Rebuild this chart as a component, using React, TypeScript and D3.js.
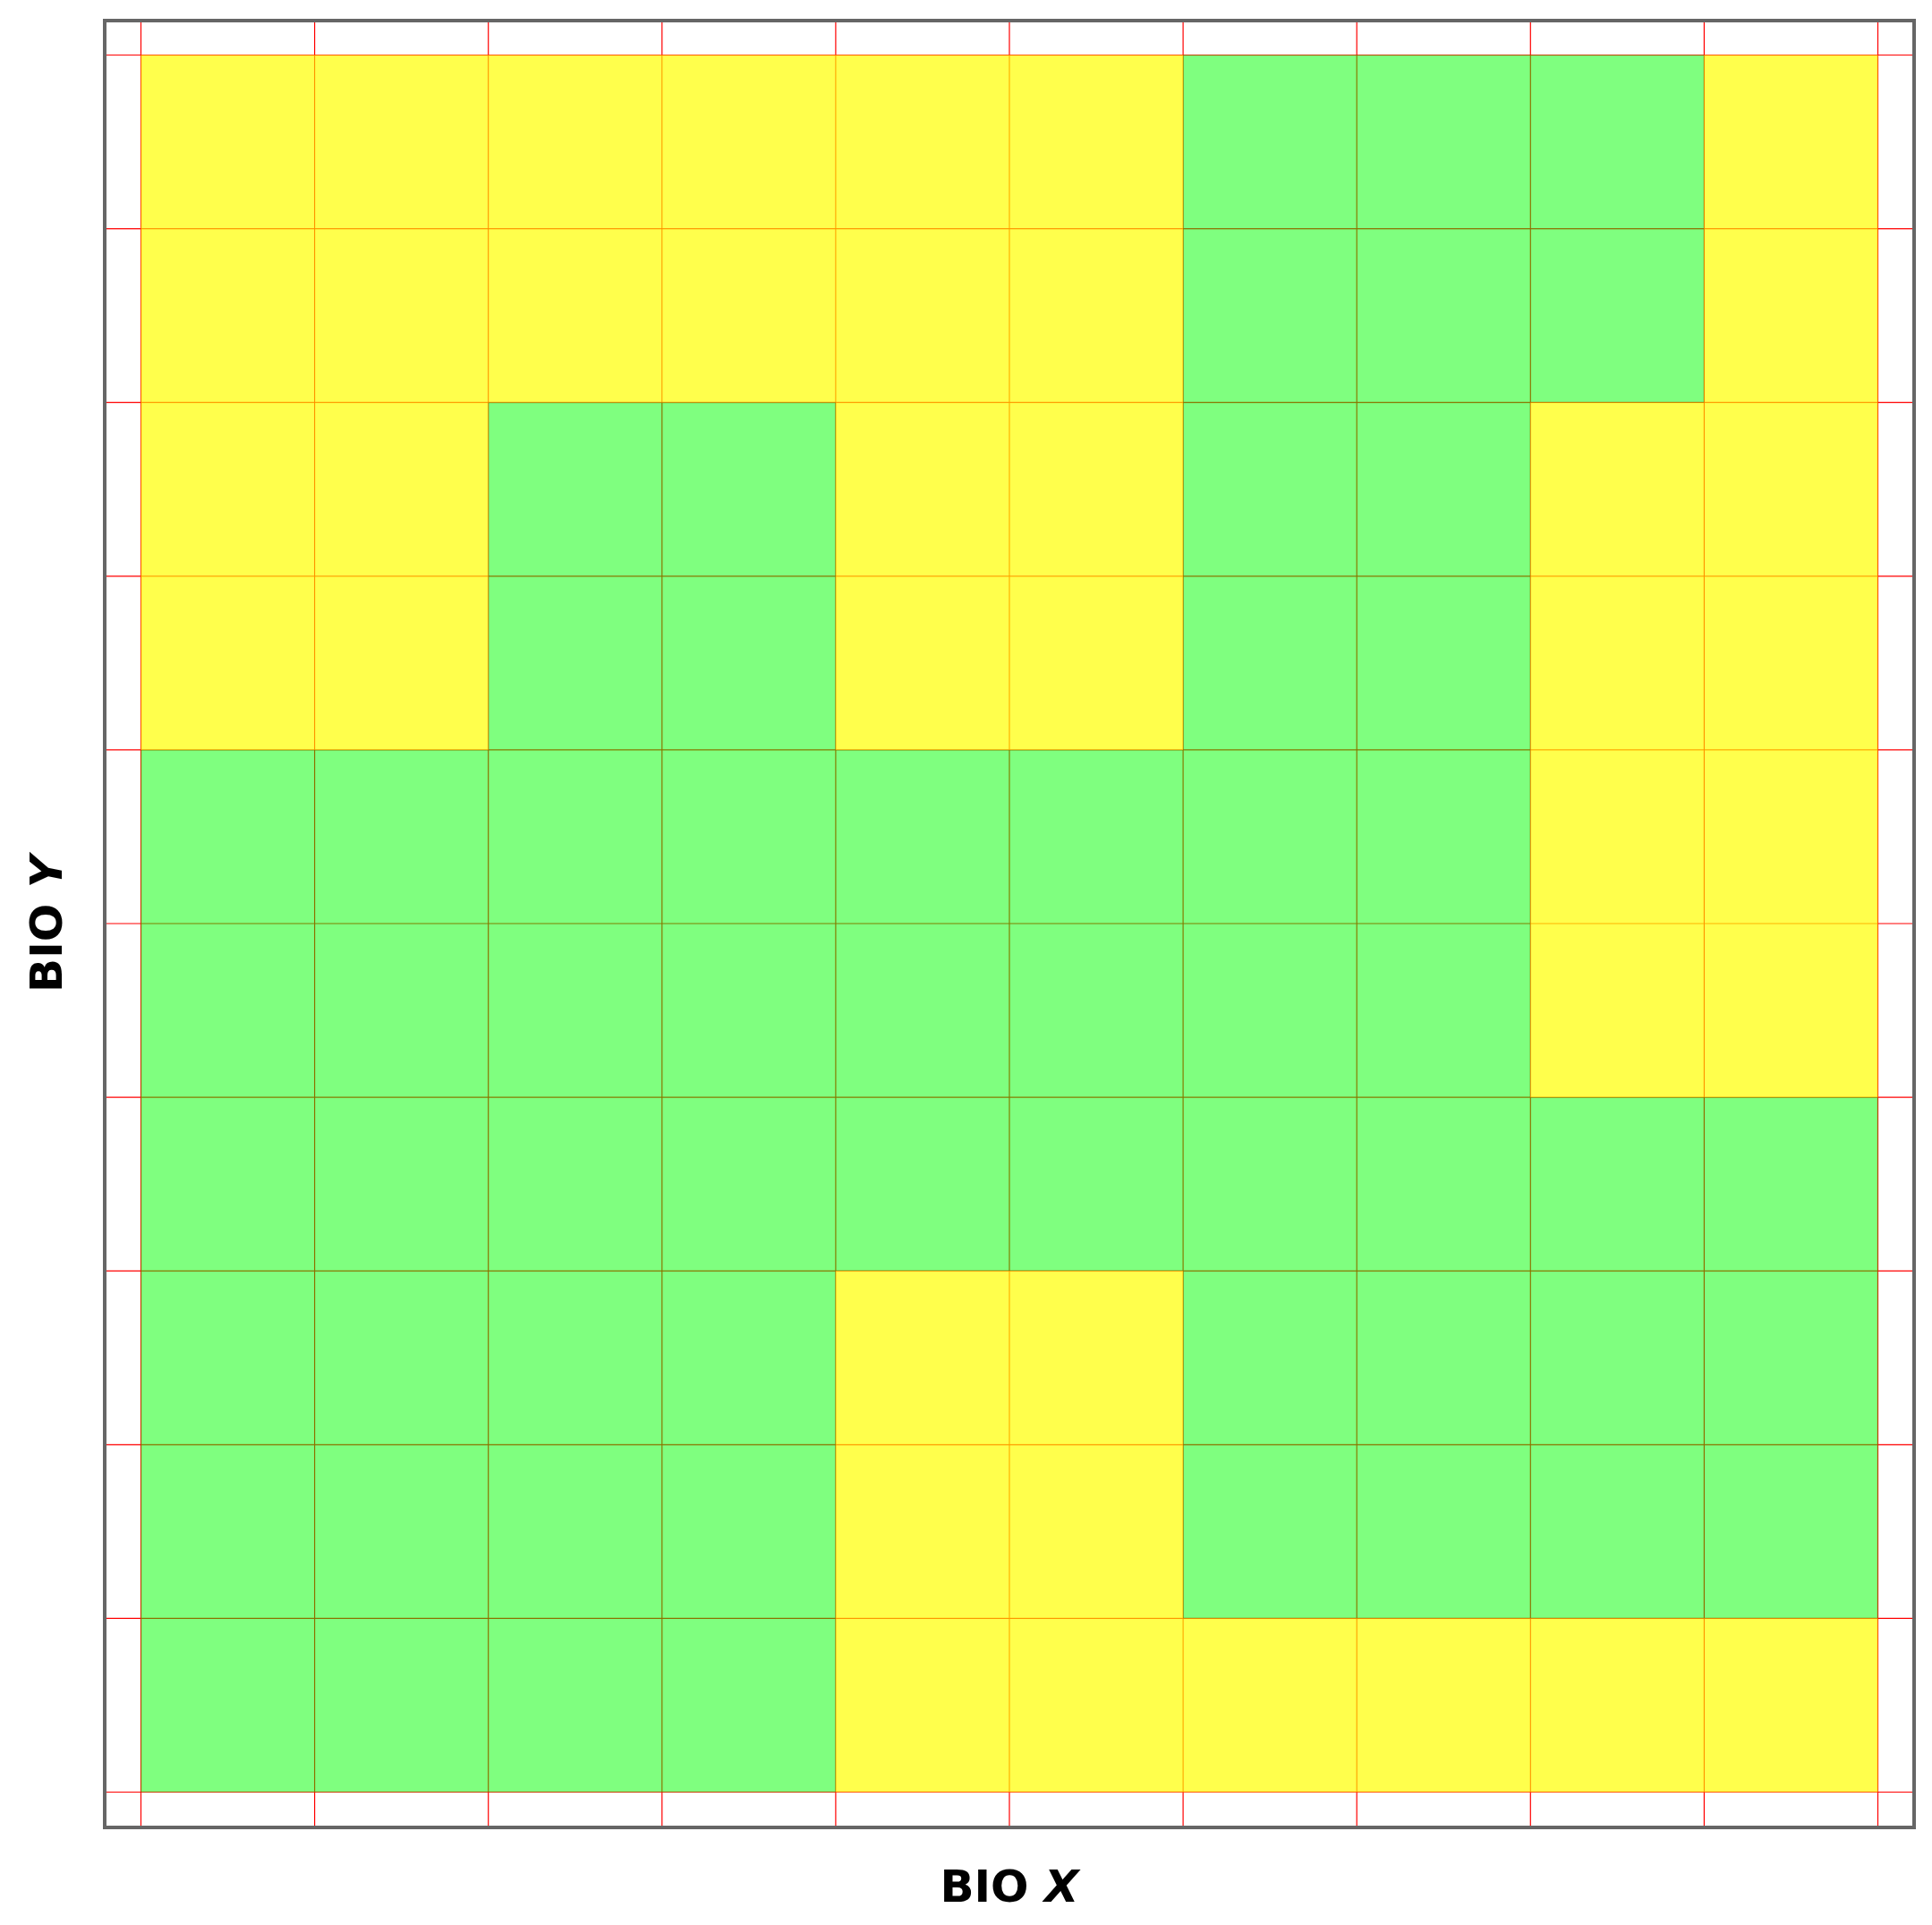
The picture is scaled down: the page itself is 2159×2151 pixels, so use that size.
import React from "react";
import * as d3 from "d3";

const xCategories = [0, 1, 2, 3, 4, 5, 6, 7, 8, 9];
const yCategories = [0, 1, 2, 3, 4, 5, 6, 7, 8, 9];
// rows from top to bottom; Y = yellow, G = green
const cellRows = [
  "YYYYYYGGGY",
  "YYYYYYGGGY",
  "YYGGYYGGYY",
  "YYGGYYGGYY",
  "GGGGGGGGYY",
  "GGGGGGGGYY",
  "GGGGGGGGGG",
  "GGGGYYGGGG",
  "GGGGYYGGGG",
  "GGGGYYYYYY",
];
const gridTicks = [0, 1, 2, 3, 4, 5, 6, 7, 8, 9, 10];

const W = 2159;
const H = 2151;
const frame = { x0: 117, y0: 23, x1: 2139, y1: 2042 };
const gx0 = 157.5, gx1 = 2098.5, gy0 = 61.5, gy1 = 2002.5;

const colorFor: Record<string, string> = {
  Y: "rgba(255,255,0,0.7)",
  G: "rgba(0,255,0,0.5)",
};

export default function App() {
  const x = d3.scaleLinear().domain([0, 10]).range([gx0, gx1]);
  const y = d3.scaleLinear().domain([0, 10]).range([gy0, gy1]);

  const cells: { c: number; r: number; k: string }[] = [];
  cellRows.forEach((row, r) =>
    row.split("").forEach((k, c) => cells.push({ c: xCategories[c], r: yCategories[r], k }))
  );

  return (
    <svg
      width={W}
      height={H}
      style={{ position: "absolute", left: 0, top: 0, background: "#fff" }}
      fontFamily="'DejaVu Sans', 'Liberation Sans', Arial, sans-serif"
    >
      <rect x={0} y={0} width={W} height={H} fill="#fff" />
      {gridTicks.map((t) => (
        <line
          key={"vx" + t}
          x1={x(t)}
          x2={x(t)}
          y1={frame.y0}
          y2={frame.y1}
          stroke="#ff0000"
          strokeWidth={1.2}
        />
      ))}
      {gridTicks.map((t) => (
        <line
          key={"hy" + t}
          x1={frame.x0}
          x2={frame.x1}
          y1={y(t)}
          y2={y(t)}
          stroke="#ff0000"
          strokeWidth={1.2}
        />
      ))}
      {cells.map((d, i) => (
        <rect
          key={i}
          x={x(d.c)}
          y={y(d.r)}
          width={x(d.c + 1) - x(d.c)}
          height={y(d.r + 1) - y(d.r)}
          fill={colorFor[d.k]}
          stroke="none"
        />
      ))}
      <rect
        x={frame.x0}
        y={frame.y0}
        width={frame.x1 - frame.x0}
        height={frame.y1 - frame.y0}
        fill="none"
        stroke="#666666"
        strokeWidth={4}
      />
      <text
        x={(frame.x0 + frame.x1) / 2}
        y={2125}
        textAnchor="middle"
        fontSize={50}
        fontWeight="bold"
        fill="#000"
      >
        BIO <tspan fontStyle="italic">X</tspan>
      </text>
      <text
        transform={`translate(69,${(frame.y0 + frame.y1) / 2}) rotate(-90)`}
        textAnchor="middle"
        fontSize={50}
        fontWeight="bold"
        fill="#000"
      >
        BIO <tspan fontStyle="italic">Y</tspan>
      </text>
    </svg>
  );
}
